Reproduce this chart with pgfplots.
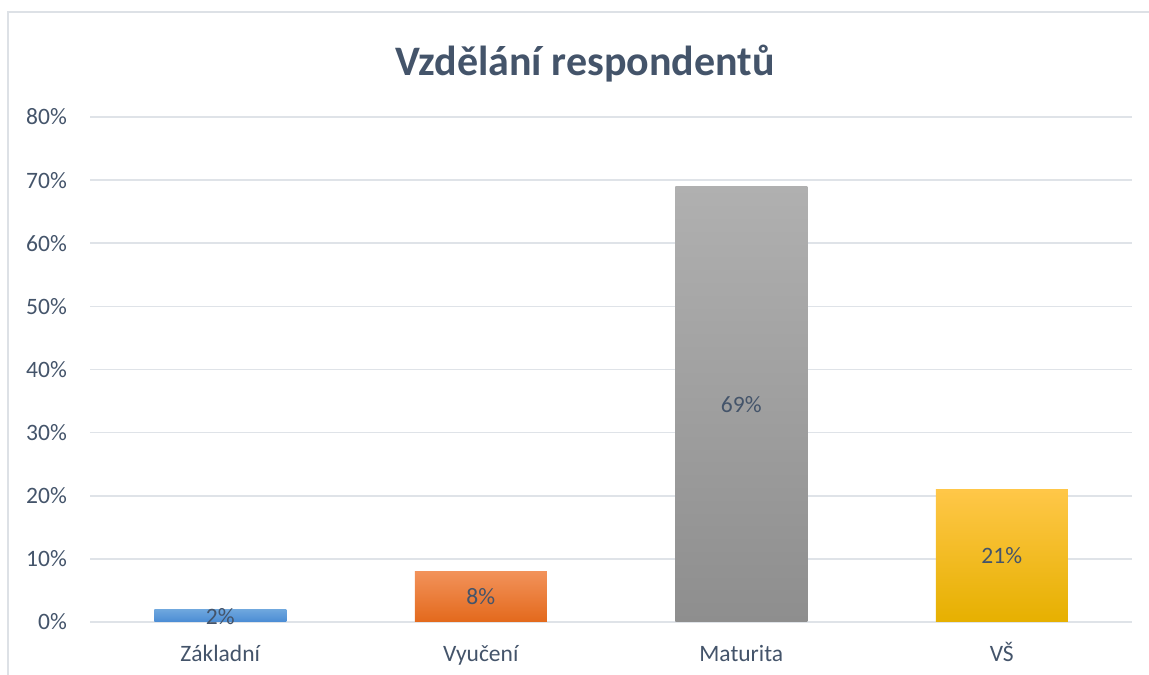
\documentclass[border=0pt]{standalone}
\usepackage{pgfplots}
\pgfplotsset{compat=1.18}
\usepackage{fontspec}
\setmainfont{Carlito}
\definecolor{textc}{HTML}{44546A}
\definecolor{gridc}{HTML}{DFE3E8}
\definecolor{borderc}{HTML}{DDE1E6}
\definecolor{bT}{HTML}{6FA7DE}\definecolor{bM}{HTML}{5B9BD5}\definecolor{bB}{HTML}{4A8CD4}
\definecolor{oT}{HTML}{F2925A}\definecolor{oM}{HTML}{F07C2C}\definecolor{oB}{HTML}{E3691C}
\definecolor{gT}{HTML}{B0B0B0}\definecolor{gM}{HTML}{A5A5A5}\definecolor{gB}{HTML}{8E8E8E}
\definecolor{yT}{HTML}{FFC748}\definecolor{yM}{HTML}{FFC000}\definecolor{yB}{HTML}{E6B000}
\begin{document}
\begin{tikzpicture}[x=1bp,y=1bp]
\path[use as bounding box] (0,0) rectangle (1149,675);
\draw[borderc, line width=1.2bp] (8,0) -- (8,663) -- (1149,663);
\node[anchor=base, text=textc, font=\fontsize{42bp}{50bp}\selectfont\bfseries] at (585,599) {Vzdělání respondentů};
\begin{axis}[
  at={(90bp,53bp)}, anchor=south west,
  scale only axis, width=1042bp, height=505bp,
  xmin=-0.5, xmax=3.5, ymin=0, ymax=80,
  enlargelimits=false,
  axis line style={draw=none},
  major tick length=0pt,
  tick style={draw=none},
  ymajorgrids, grid style={gridc, line width=1.6bp},
  ytick={0,10,...,80},
  yticklabels={0\%,10\%,20\%,30\%,40\%,50\%,60\%,70\%,80\%},
  xtick={0,1,2,3},
  xticklabels={Základní,Vyučení,Maturita,VŠ},
  yticklabel style={anchor=east, inner sep=0pt, xshift=-23bp, text=textc, font=\fontsize{23.5bp}{28bp}\selectfont},
  xticklabel style={anchor=base, inner sep=0pt, yshift=-40bp, text=textc, font=\fontsize{23.5bp}{28bp}\selectfont},
  clip=false,
]
\addplot[ybar, bar width=132bp, bar shift=0pt, draw=none, top color=bT, middle color=bM, bottom color=bB] coordinates {(0,2)};
\addplot[ybar, bar width=132bp, bar shift=0pt, draw=none, top color=oT, middle color=oM, bottom color=oB] coordinates {(1,8)};
\addplot[ybar, bar width=132bp, bar shift=0pt, draw=none, top color=gT, middle color=gM, bottom color=gB] coordinates {(2,69)};
\addplot[ybar, bar width=132bp, bar shift=0pt, draw=none, top color=yT, middle color=yM, bottom color=yB] coordinates {(3,21)};
\addplot[draw=none, mark=none, nodes near coords, point meta=explicit symbolic,
  nodes near coords style={anchor=center, text=textc, font=\fontsize{23.5bp}{28bp}\selectfont}]
  coordinates {(0,0.8) [2\%] (1,4) [8\%] (2,34.5) [69\%] (3,10.5) [21\%]};
\end{axis}
\end{tikzpicture}
\end{document}
